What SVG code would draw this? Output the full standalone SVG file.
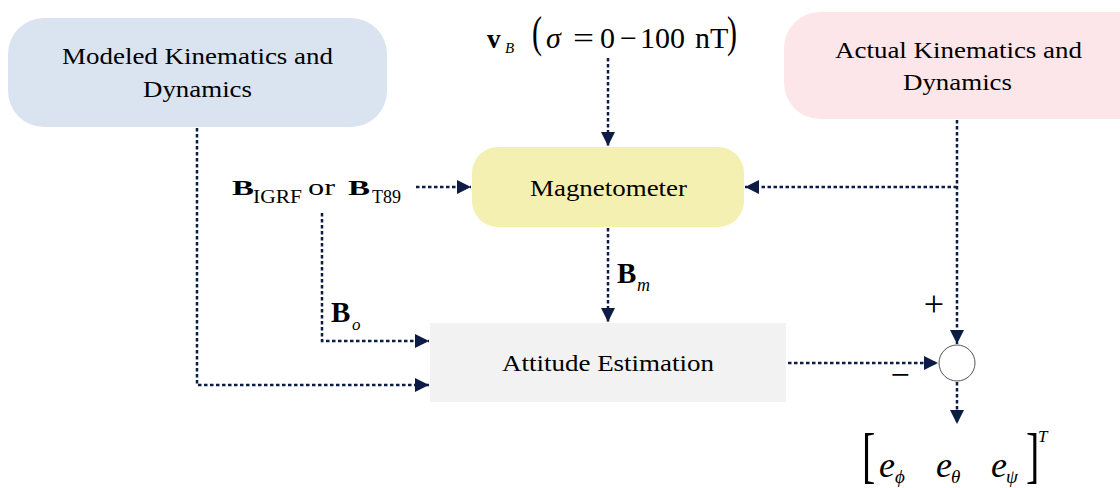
<svg xmlns="http://www.w3.org/2000/svg" width="1120" height="488" viewBox="0 0 1120 488">
<style>
.t{font-family:"Liberation Serif","Times New Roman",serif;fill:#000}
.c{stroke:#0c1c44;stroke-width:2.5;stroke-dasharray:3.5 2.5;fill:none}
.b{font-weight:bold}
.i{font-style:italic}
</style>
<defs>
<marker id="ah" markerUnits="userSpaceOnUse" markerWidth="16" markerHeight="16" refX="14" refY="7" orient="auto">
<path d="M0,0 L14,7 L0,14 z" fill="#0c1c44"/>
</marker>
</defs>
<rect width="1120" height="488" fill="#fff"/>
<g id="modeled">
<rect x="8" y="18" width="379" height="109" rx="36" fill="#dae3f0"/>
<text class="t" x="62" y="64" font-size="24" textLength="271" lengthAdjust="spacingAndGlyphs">Modeled Kinematics and</text>
<text class="t" x="143" y="97" font-size="24" textLength="109" lengthAdjust="spacingAndGlyphs">Dynamics</text>
</g>
<g id="actual">
<rect x="784" y="12" width="372" height="107" rx="36" fill="#fde6e9"/>
<text class="t" x="835" y="58" font-size="24" textLength="247" lengthAdjust="spacingAndGlyphs">Actual Kinematics and</text>
<text class="t" x="903" y="90" font-size="24" textLength="109" lengthAdjust="spacingAndGlyphs">Dynamics</text>
</g>
<g id="magnetometer">
<rect x="472" y="147" width="272" height="80" rx="26" fill="#f3f0b1"/>
<text class="t" x="530" y="196" font-size="24" textLength="157" lengthAdjust="spacingAndGlyphs">Magnetometer</text>
</g>
<g id="attitude">
<rect x="430" y="323" width="356" height="79" fill="#f2f2f2"/>
<text class="t" x="502" y="371" font-size="24" textLength="212" lengthAdjust="spacingAndGlyphs">Attitude Estimation</text>
</g>
<g id="sum">
<circle cx="957" cy="363" r="18" fill="#fff" stroke="#555" stroke-width="1"/>
<text class="t" x="934" y="316" font-size="36" text-anchor="middle">+</text>
<text class="t" x="900" y="386" font-size="34" text-anchor="middle">−</text>
</g>
<g id="labels">
<text class="t b" x="487" y="48" font-size="27">v</text>
<text class="t i" x="505" y="53" font-size="15">B</text>
<text class="t" transform="translate(532,47) scale(1,1.45)" font-size="30">(</text>
<text class="t i" x="546" y="48" font-size="30">σ</text>
<text class="t" x="573" y="48" font-size="30" textLength="21" lengthAdjust="spacingAndGlyphs">=</text>
<text class="t" x="600" y="48" font-size="30">0</text>
<text class="t" x="620" y="48" font-size="30">−</text>
<text class="t" x="640" y="48" font-size="30">100</text>
<text class="t" x="695" y="48" font-size="30">nT</text>
<text class="t" transform="translate(727,47) scale(1,1.45)" font-size="30">)</text>

<text class="t b" x="232" y="195" font-size="22" textLength="22" lengthAdjust="spacingAndGlyphs">B</text>
<text class="t" x="253" y="203" font-size="18" textLength="49" lengthAdjust="spacingAndGlyphs">IGRF</text>
<text class="t" x="308" y="195" font-size="23" textLength="27" lengthAdjust="spacingAndGlyphs">or</text>
<text class="t b" x="348" y="195" font-size="22" textLength="22" lengthAdjust="spacingAndGlyphs">B</text>
<text class="t" x="372" y="203" font-size="18" textLength="29" lengthAdjust="spacingAndGlyphs">T89</text>

<text class="t b" x="331" y="322" font-size="29">B</text>
<text class="t i" x="352" y="330" font-size="17">o</text>
<text class="t b" x="617" y="283" font-size="29">B</text>
<text class="t i" x="637" y="291" font-size="18">m</text>

<text class="t" transform="translate(862,476) scale(1,1.55)" font-size="40">[</text>
<text class="t i" x="879" y="477" font-size="36">e</text>
<text class="t i" x="895" y="483" font-size="19">ϕ</text>
<text class="t i" x="936" y="477" font-size="36">e</text>
<text class="t i" x="951" y="483" font-size="19">θ</text>
<text class="t i" x="991" y="477" font-size="36">e</text>
<text class="t i" x="1006" y="483" font-size="19">ψ</text>
<text class="t" transform="translate(1026,476) scale(1,1.55)" font-size="40">]</text>
<text class="t i" x="1038" y="442" font-size="17">T</text>
</g>
<g id="connectors">
<path class="c" d="M608,58 V146" marker-end="url(#ah)"/>
<path class="c" d="M197,128 V385 H429" marker-end="url(#ah)"/>
<path class="c" d="M416,187 H471" marker-end="url(#ah)"/>
<path class="c" d="M322,213 V341 H429" marker-end="url(#ah)"/>
<path class="c" d="M608,228 V322" marker-end="url(#ah)"/>
<path class="c" d="M957,120 V344" marker-end="url(#ah)"/>
<path class="c" d="M957,187 H745" marker-end="url(#ah)"/>
<path class="c" d="M788,363 H938" marker-end="url(#ah)"/>
<path class="c" d="M957,382 V424" marker-end="url(#ah)"/>
</g>
</svg>
